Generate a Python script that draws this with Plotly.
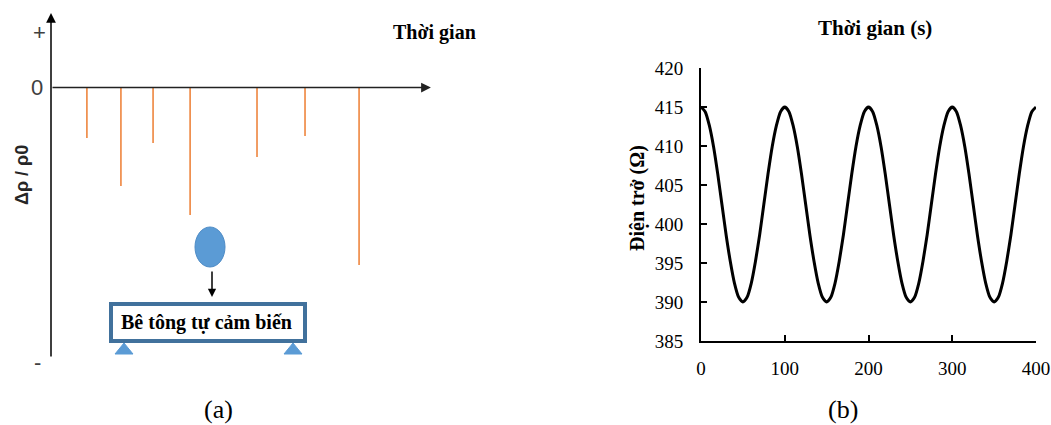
import plotly.graph_objects as go

W, H = 1051, 425

# ---- Panel (a): resistivity change spikes on impact ----
spike_time = [0.95, 1.85, 2.70, 3.68, 5.45, 6.72, 8.15]
spike_drop = [-0.183, -0.357, -0.201, -0.462, -0.252, -0.176, -0.643]

# ---- Panel (b): resistance under cyclic loading ----
time_s = list(range(0, 401, 5))
one_cycle = [415, 414.4, 412.6, 409.9, 406.4, 402.5, 398.6, 395.2, 392.4, 390.6,
             390, 390.6, 392.4, 395.2, 398.6, 402.5, 406.4, 409.9, 412.6, 414.4]
resistance = one_cycle * 4 + [415]
y_ticks = [385, 390, 395, 400, 405, 410, 415, 420]
x_ticks = [0, 100, 200, 300, 400]


def px(x):
    return x / W


def py(y):
    return 1 - y / H


SERIF = "Liberation Serif"
SANS = "Liberation Sans"
ORANGE = "#ED7D31"
BLUE = "#5B9BD5"
DARKBLUE = "#41719C"

fig = go.Figure()

# spikes drawn from the zero line down to each value
sx, sy = [], []
for t, v in zip(spike_time, spike_drop):
    sx += [t, t, None]
    sy += [0, v, None]
fig.add_trace(go.Scatter(x=sx, y=sy, mode="lines", xaxis="x2", yaxis="y2",
                         line=dict(color=ORANGE, width=1.5),
                         hoverinfo="skip", showlegend=False))

fig.add_trace(go.Scatter(x=time_s, y=resistance, mode="lines",
                         line=dict(color="black", width=3, shape="spline", smoothing=0.6),
                         showlegend=False))

ann = []
# axes of the schematic (arrows)
ann.append(dict(x=0, y=0.270, ax=0, ay=-0.980, xref="x2", yref="y2", axref="x2", ayref="y2",
                text="", showarrow=True, arrowhead=2, arrowsize=1.3, arrowwidth=1.5,
                arrowcolor="black", standoff=0, startstandoff=0))
ann.append(dict(x=10.05, y=0, ax=0, ay=0, xref="x2", yref="y2", axref="x2", ayref="y2",
                text="", showarrow=True, arrowhead=2, arrowsize=1.3, arrowwidth=1.5,
                arrowcolor="#222222", standoff=0, startstandoff=0))

# labels on the schematic axis
for txt, (x, y) in [("+", (39, 33)), ("0", (37, 88)), ("-", (37, 362))]:
    ann.append(dict(x=px(x), y=py(y), xref="paper", yref="paper", text=txt, showarrow=False,
                    font=dict(family=SANS, size=22, color="#404040"),
                    xanchor="center", yanchor="middle"))
ann.append(dict(x=px(22), y=py(175), xref="paper", yref="paper", text="<b>Δρ / ρ0</b>",
                textangle=-90, showarrow=False,
                font=dict(family=SANS, size=18, color="#262626"),
                xanchor="center", yanchor="middle"))
ann.append(dict(x=px(434), y=py(33), xref="paper", yref="paper", text="<b>Thời gian</b>",
                showarrow=False, font=dict(family=SERIF, size=20, color="black"),
                xanchor="center", yanchor="middle"))
# falling ball arrow
ann.append(dict(x=px(212), y=py(297), xref="paper", yref="paper", ax=0, ay=-27,
                axref="pixel", ayref="pixel", text="", showarrow=True, arrowhead=2,
                arrowsize=1.1, arrowwidth=1.5, arrowcolor="black", standoff=0))
ann.append(dict(x=px(206), y=py(322), xref="paper", yref="paper",
                text="<b>Bê tông tự cảm biến</b>", showarrow=False,
                font=dict(family=SERIF, size=20, color="black"),
                xanchor="center", yanchor="middle"))
ann.append(dict(x=px(218), y=py(409), xref="paper", yref="paper", text="(a)", showarrow=False,
                font=dict(family=SERIF, size=26, color="black"),
                xanchor="center", yanchor="middle"))
ann.append(dict(x=px(843), y=py(409), xref="paper", yref="paper", text="(b)", showarrow=False,
                font=dict(family=SERIF, size=26, color="black"),
                xanchor="center", yanchor="middle"))
# panel (b) titles
ann.append(dict(x=px(875), y=py(28), xref="paper", yref="paper", text="<b>Thời gian (s)</b>",
                showarrow=False, font=dict(family=SERIF, size=21, color="black"),
                xanchor="center", yanchor="middle"))
ann.append(dict(x=px(638), y=py(198), xref="paper", yref="paper", text="<b>Điện trở (Ω)</b>",
                textangle=-90, showarrow=False, font=dict(family=SERIF, size=20, color="black"),
                xanchor="center", yanchor="middle"))

shapes = []
# ball
shapes.append(dict(type="circle", xref="paper", yref="paper",
                   x0=px(195), x1=px(225), y0=py(267), y1=py(227),
                   fillcolor=BLUE, line=dict(color="#4F8CC6", width=1)))
# beam
shapes.append(dict(type="rect", xref="paper", yref="paper",
                   x0=px(111), x1=px(305), y0=py(341), y1=py(304),
                   fillcolor="white", line=dict(color=DARKBLUE, width=4)))
# supports
for cx in (124, 293):
    path = (f"M {px(cx)},{py(343)} L {px(cx - 9)},{py(354)} "
            f"L {px(cx + 9)},{py(354)} Z")
    shapes.append(dict(type="path", xref="paper", yref="paper", path=path,
                       fillcolor=BLUE, line=dict(color=BLUE, width=1)))

fig.update_layout(
    template="none",
    width=W, height=H,
    margin=dict(l=0, r=0, t=0, b=0, pad=0),
    paper_bgcolor="white", plot_bgcolor="white",
    showlegend=False,
    annotations=ann,
    shapes=shapes,
    xaxis=dict(domain=[px(701), px(1036)], range=[0, 400], tickvals=x_ticks,
               showline=True, linecolor="black", linewidth=2, automargin=False,
               ticks="inside", ticklen=6, tickwidth=2, tickcolor="black",
               showgrid=False, zeroline=False, ticklabelstandoff=9,
               tickfont=dict(family=SERIF, size=19, color="black")),
    yaxis=dict(domain=[py(341), py(68)], range=[385, 420], tickvals=y_ticks,
               showline=True, linecolor="black", linewidth=2, automargin=False,
               ticks="inside", ticklen=6, tickwidth=2, tickcolor="black",
               showgrid=False, zeroline=False, ticklabelstandoff=12,
               tickfont=dict(family=SERIF, size=19, color="black")),
    xaxis2=dict(domain=[0, 0.45], range=[-1.3492, 11.1627], visible=False,
                anchor="y2", fixedrange=True, automargin=False),
    yaxis2=dict(domain=[0, 1], range=[-1.2228, 0.3170], visible=False,
                anchor="x2", fixedrange=True, automargin=False),
)

fig.write_html("out.html")
